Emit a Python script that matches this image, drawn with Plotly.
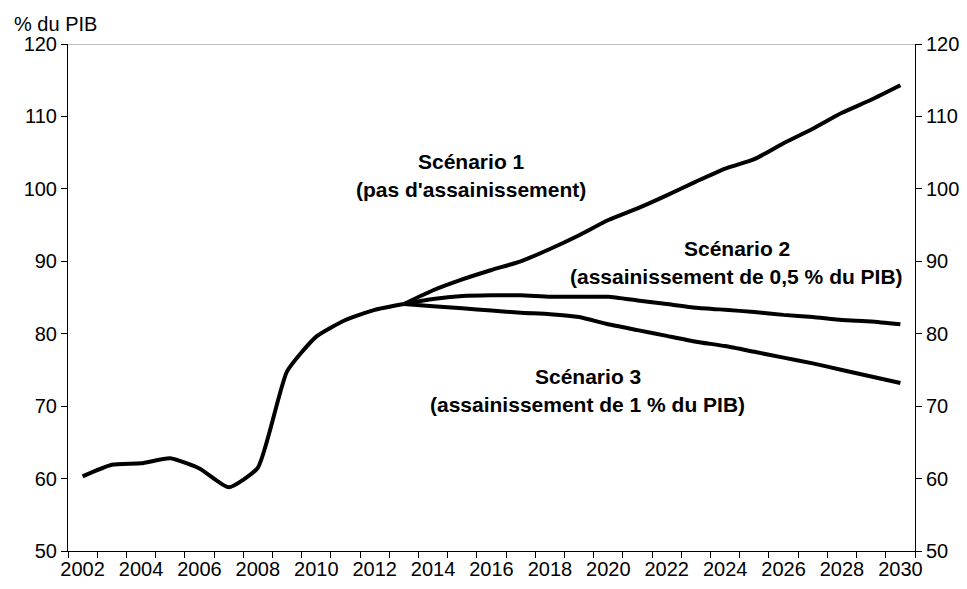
import plotly.graph_objects as go

# historical debt (% of GDP), annual
years_hist = list(range(2002, 2014))
debt_hist = [60.3, 61.9, 62.1, 62.8, 61.4, 58.8, 61.5, 74.8, 79.6, 81.9, 83.3, 84.1]

# projections 2013-2030
years_proj = list(range(2013, 2031))
scen1 = [84.1, 86.0, 87.5, 88.8, 90.0, 91.7, 93.6, 95.7, 97.3, 99.1,
         101.0, 102.8, 104.1, 106.3, 108.3, 110.5, 112.3, 114.3]
scen2 = [84.1, 84.8, 85.2, 85.3, 85.3, 85.1, 85.1, 85.1, 84.6, 84.1,
         83.6, 83.3, 83.0, 82.6, 82.3, 81.9, 81.7, 81.3]
scen3 = [84.1, 83.8, 83.5, 83.2, 82.9, 82.7, 82.3, 81.3, 80.5, 79.7,
         78.9, 78.3, 77.5, 76.7, 75.9, 75.0, 74.1, 73.2]

x_labels = list(range(2002, 2031, 2))
y_ticks = list(range(50, 121, 10))

labels = [
    (2015.3, 103.8, "Scénario 1"),
    (2015.3, 99.9, "(pas d'assainissement)"),
    (2024.4, 91.8, "Scénario 2"),
    (2024.4, 87.9, "(assainissement de 0,5 % du PIB)"),
    (2019.3, 74.1, "Scénario 3"),
    (2019.3, 70.2, "(assainissement de 1 % du PIB)"),
]

font = "Liberation Sans, Arial, sans-serif"
line = dict(color="black", width=4, shape="spline", smoothing=0.5)

fig = go.Figure()
fig.add_trace(go.Scatter(x=years_hist, y=debt_hist, mode="lines", line=line, yaxis="y2"))
for s in (scen1, scen2, scen3):
    fig.add_trace(go.Scatter(x=years_proj, y=s, mode="lines", line=line))

for x, y, t in labels:
    fig.add_annotation(x=x, y=y, text="<b>%s</b>" % t, showarrow=False,
                       font=dict(family=font, size=21, color="black"))

fig.add_annotation(xref="paper", yref="paper", x=-0.066, y=1.039,
                   xanchor="left", yanchor="middle", text="% du PIB", showarrow=False,
                   font=dict(family=font, size=20, color="black"))

# light grey top border
fig.add_shape(type="line", xref="paper", yref="y", x0=0, x1=1, y0=120, y1=120,
              line=dict(color="#808080", width=1))

yax = dict(range=[50, 120], tickvals=y_ticks, ticks="outside", ticklen=6,
           tickcolor="black", showline=True, linecolor="black", linewidth=1,
           showgrid=False, zeroline=False, automargin=False,
           tickfont=dict(family=font, size=20, color="black"))

# page body has an 8px margin, so the figure is a bit smaller than the window
fig.update_layout(
    width=959, height=581,
    margin=dict(l=60, r=52, t=36, b=38),
    plot_bgcolor="white", paper_bgcolor="white",
    showlegend=False,
    xaxis=dict(range=[2001.5, 2030.5], tickvals=x_labels, ticks="", automargin=False,
               showline=True, linecolor="black", linewidth=1, showgrid=False,
               zeroline=False, tickfont=dict(family=font, size=20, color="black"),
               minor=dict(tick0=2001.5, dtick=1, ticks="outside", ticklen=6,
                          tickcolor="black", showgrid=False)),
    yaxis=dict(yax, side="left"),
    yaxis2=dict(yax, side="right", overlaying="y", matches="y"),
)

fig.write_html("out.html")
